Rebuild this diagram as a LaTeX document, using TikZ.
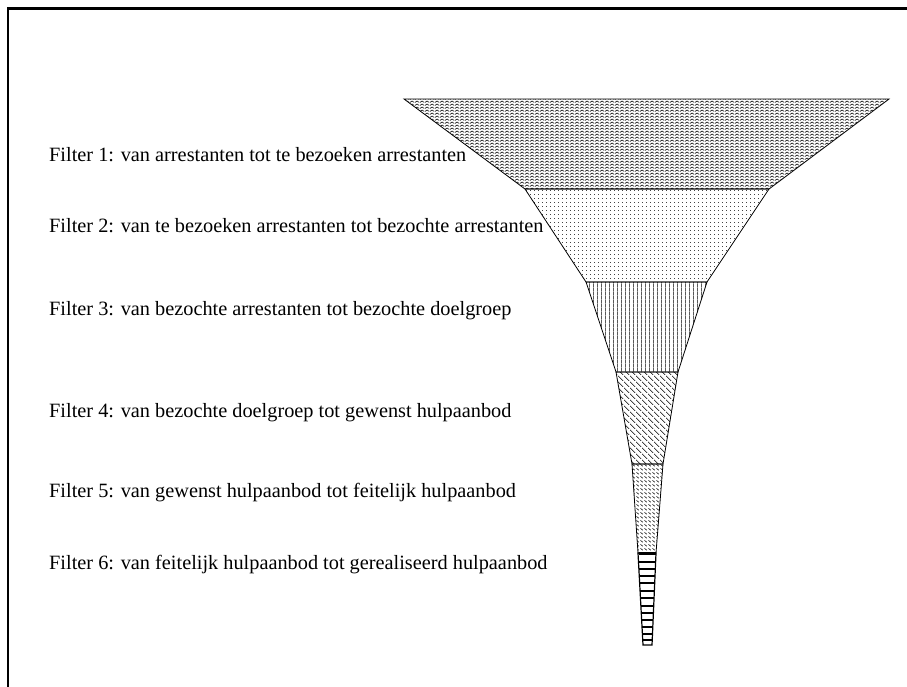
\documentclass[tikz,border=0pt]{standalone}
\usepackage{fontspec}
\setmainfont{Liberation Serif}
\usetikzlibrary{patterns,patterns.meta}

\pgfdeclarepattern{
  name=zigzagfill, type=uncolored,
  bottom left={\pgfpoint{0pt}{0pt}}, top right={\pgfpoint{5pt}{3.2pt}},
  tile size={\pgfpoint{5pt}{3.2pt}},
  code={
    \pgfsetlinewidth{0.7pt}
    \pgfpathmoveto{\pgfpoint{0pt}{0.7pt}}
    \pgfpathlineto{\pgfpoint{2.5pt}{2.5pt}}
    \pgfpathlineto{\pgfpoint{5pt}{0.7pt}}
    \pgfusepath{stroke}
  }
}
\pgfdeclarepattern{
  name=dotfill, type=uncolored,
  bottom left={\pgfpoint{0pt}{0pt}}, top right={\pgfpoint{3.5pt}{3.5pt}},
  tile size={\pgfpoint{3.5pt}{3.5pt}},
  code={
    \pgfpathcircle{\pgfpoint{1.75pt}{1.75pt}}{0.5pt}
    \pgfusepath{fill}
  }
}
\pgfdeclarepattern{
  name=vlinefill, type=uncolored,
  bottom left={\pgfpoint{0pt}{0pt}}, top right={\pgfpoint{4pt}{4pt}},
  tile size={\pgfpoint{4pt}{4pt}},
  code={
    \pgfsetlinewidth{0.8pt}
    \pgfpathmoveto{\pgfpoint{2pt}{-0.5pt}}
    \pgfpathlineto{\pgfpoint{2pt}{4.5pt}}
    \pgfusepath{stroke}
  }
}
\pgfdeclarepattern{
  name=wavefill, type=uncolored,
  bottom left={\pgfpoint{0pt}{0pt}}, top right={\pgfpoint{6pt}{6pt}},
  tile size={\pgfpoint{6pt}{6pt}},
  code={
    \pgfsetlinewidth{0.65pt}
    \pgfpathmoveto{\pgfpoint{0pt}{6pt}}
    \pgfpathcurveto{\pgfpoint{2.5pt}{5.5pt}}{\pgfpoint{1pt}{3pt}}{\pgfpoint{3pt}{3pt}}
    \pgfpathcurveto{\pgfpoint{5pt}{3pt}}{\pgfpoint{3.5pt}{0.5pt}}{\pgfpoint{6pt}{0pt}}
    \pgfusepath{stroke}
  }
}
\pgfdeclarepattern{
  name=dashfill, type=uncolored,
  bottom left={\pgfpoint{0pt}{0pt}}, top right={\pgfpoint{4pt}{4pt}},
  tile size={\pgfpoint{4pt}{4pt}},
  code={
    \pgfsetlinewidth{0.65pt}
    \pgfpathmoveto{\pgfpoint{0.6pt}{3.2pt}}
    \pgfpathlineto{\pgfpoint{3.4pt}{1pt}}
    \pgfusepath{stroke}
  }
}

\tikzset{
  lbl/.style={anchor=base west, inner sep=0pt, font=\fontsize{20.3}{24}\selectfont},
  seg/.style={draw=black, line width=0.8pt, line join=miter},
  framestyle/.style={line width=2.5pt}
}

\begin{document}
\begin{tikzpicture}[x=1pt, y=-1pt]
\useasboundingbox (0,0) rectangle (907,686);
\fill[white] (0,0) rectangle (907,686);

% frame
\draw[framestyle] (8,690) -- (8,8.5) -- (910,8.5);

% funnel segments
\path[seg, pattern={zigzagfill}] (404,99) -- (889,99) -- (769,189) -- (525,189) -- cycle;
\path[seg, pattern={dotfill}] (525,189) -- (769,189) -- (707,282) -- (586,282) -- cycle;
\path[seg, pattern={vlinefill}] (586,282) -- (707,282) -- (678,372) -- (616,372) -- cycle;
\path[seg, pattern={wavefill}] (616,372) -- (678,372) -- (663,464) -- (632,464) -- cycle;
\path[seg, pattern={dashfill}] (632,464) -- (663,464) -- (656,553) -- (638,553) -- cycle;
\path[seg, line width=1.2pt] (638,553) -- (656,553) -- (652,645) -- (643,645) -- cycle;
\draw[line width=3pt] (638.5,553) -- (655.5,553);
\foreach \yy in {562,569,576,583,591,598,606,613,620,627,634,640}{
  \pgfmathsetmacro{\xl}{638+5*(\yy-553)/92}
  \pgfmathsetmacro{\xr}{656-4*(\yy-553)/92}
  \draw[line width=1.1pt] (\xl,\yy) -- (\xr,\yy);
}

% labels
\node[lbl] (f1) at (49,161) {Filter 1: van arrestanten tot te bezoeken arrestanten};
\node[lbl] (f2) at (49,232) {Filter 2: van te bezoeken arrestanten tot bezochte arrestanten};
\node[lbl] (f3) at (49,315) {Filter 3: van bezochte arrestanten tot bezochte doelgroep};
\node[lbl] (f4) at (49,417) {Filter 4: van bezochte doelgroep tot gewenst hulpaanbod};
\node[lbl] (f5) at (49,497) {Filter 5: van gewenst hulpaanbod tot feitelijk hulpaanbod};
\node[lbl] (f6) at (49,569) {Filter 6: van feitelijk hulpaanbod tot gerealiseerd hulpaanbod};
\end{tikzpicture}
\end{document}
